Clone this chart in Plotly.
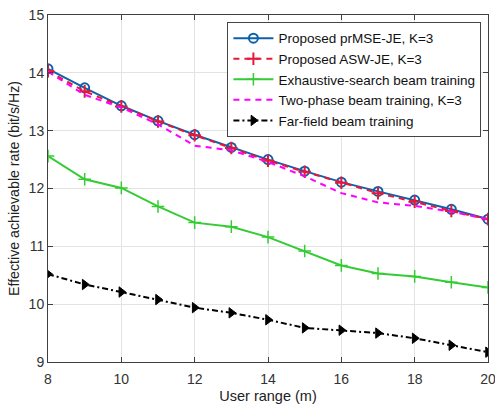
import plotly.graph_objects as go

x_range_m = [8, 9, 10, 11, 12, 13, 14, 15, 16, 17, 18, 19, 20]
prmse_je = [14.07, 13.74, 13.43, 13.17, 12.93, 12.71, 12.50, 12.30, 12.11, 11.95, 11.80, 11.64, 11.47]
asw_je = [14.03, 13.68, 13.42, 13.16, 12.92, 12.70, 12.48, 12.29, 12.10, 11.92, 11.77, 11.61, 11.47]
exhaustive = [12.56, 12.16, 12.01, 11.69, 11.41, 11.34, 11.16, 10.92, 10.67, 10.53, 10.48, 10.38, 10.29]
two_phase = [14.02, 13.62, 13.40, 13.11, 12.74, 12.66, 12.46, 12.21, 11.92, 11.76, 11.70, 11.60, 11.47]
far_field = [10.52, 10.34, 10.21, 10.08, 9.94, 9.85, 9.73, 9.59, 9.55, 9.50, 9.41, 9.29, 9.17]

names = ["Proposed prMSE-JE, K=3", "Proposed ASW-JE, K=3", "Exhaustive-search beam training",
         "Two-phase beam training, K=3", "Far-field beam training"]

fig = go.Figure()
fig.add_trace(go.Scatter(x=x_range_m, y=prmse_je, name=names[0], mode="lines+markers",
                         line=dict(color="#0C62AA", width=2),
                         marker=dict(symbol="circle-open", size=9, color="#0C62AA", line=dict(width=2))))
fig.add_trace(go.Scatter(x=x_range_m, y=asw_je, name=names[1], mode="lines+markers",
                         line=dict(color="#E8173A", width=2, dash="6px,5px"),
                         marker=dict(symbol="cross-thin", size=9, color="#E8173A", line=dict(width=2, color="#E8173A"))))
fig.add_trace(go.Scatter(x=x_range_m, y=exhaustive, name=names[2], mode="lines+markers",
                         line=dict(color="#33CC33", width=2),
                         marker=dict(symbol="cross-thin", size=9, color="#33CC33", line=dict(width=1.5, color="#33CC33"))))
fig.add_trace(go.Scatter(x=x_range_m, y=two_phase, name=names[3], mode="lines",
                         line=dict(color="#FF00FF", width=2, dash="6px,5px")))
fig.add_trace(go.Scatter(x=x_range_m, y=far_field, name=names[4], mode="lines+markers",
                         line=dict(color="black", width=2, dash="6px,3px,2px,3px"),
                         marker=dict(symbol="triangle-right", size=9, color="black", line=dict(width=1, color="black"))))

axis_common = dict(showgrid=True, gridcolor="#E3E3E3", gridwidth=1, showline=True, linecolor="#404040",
                   linewidth=1, mirror="ticks", ticks="inside", ticklen=5, tickcolor="#404040",
                   tickfont=dict(family="Liberation Sans, Arial", size=14, color="#333333"), zeroline=False,
                   automargin=False, ticklabeloverflow="allow")

fig.update_layout(
    width=495, height=404,
    margin=dict(l=48, r=7, t=15, b=42),
    paper_bgcolor="white", plot_bgcolor="white",
    font=dict(family="Liberation Sans, Arial", color="#222222"),
    xaxis=dict(range=[8, 20], dtick=2, ticklabelstandoff=4,
               title=dict(text="User range (m)", font=dict(size=14.5), standoff=10), **axis_common),
    yaxis=dict(range=[9, 15], dtick=1,
               title=dict(text="Effective achievable rate (bit/s/Hz)", font=dict(size=14.2), standoff=5), **axis_common),
    legend=dict(x=0.985, y=0.98, xanchor="right", yanchor="top", bgcolor="white",
                bordercolor="#444444", borderwidth=1, font=dict(size=13.5, color="#111111"),
                tracegroupgap=0, itemwidth=40),
    showlegend=True,
)

fig.write_html("out.html")
